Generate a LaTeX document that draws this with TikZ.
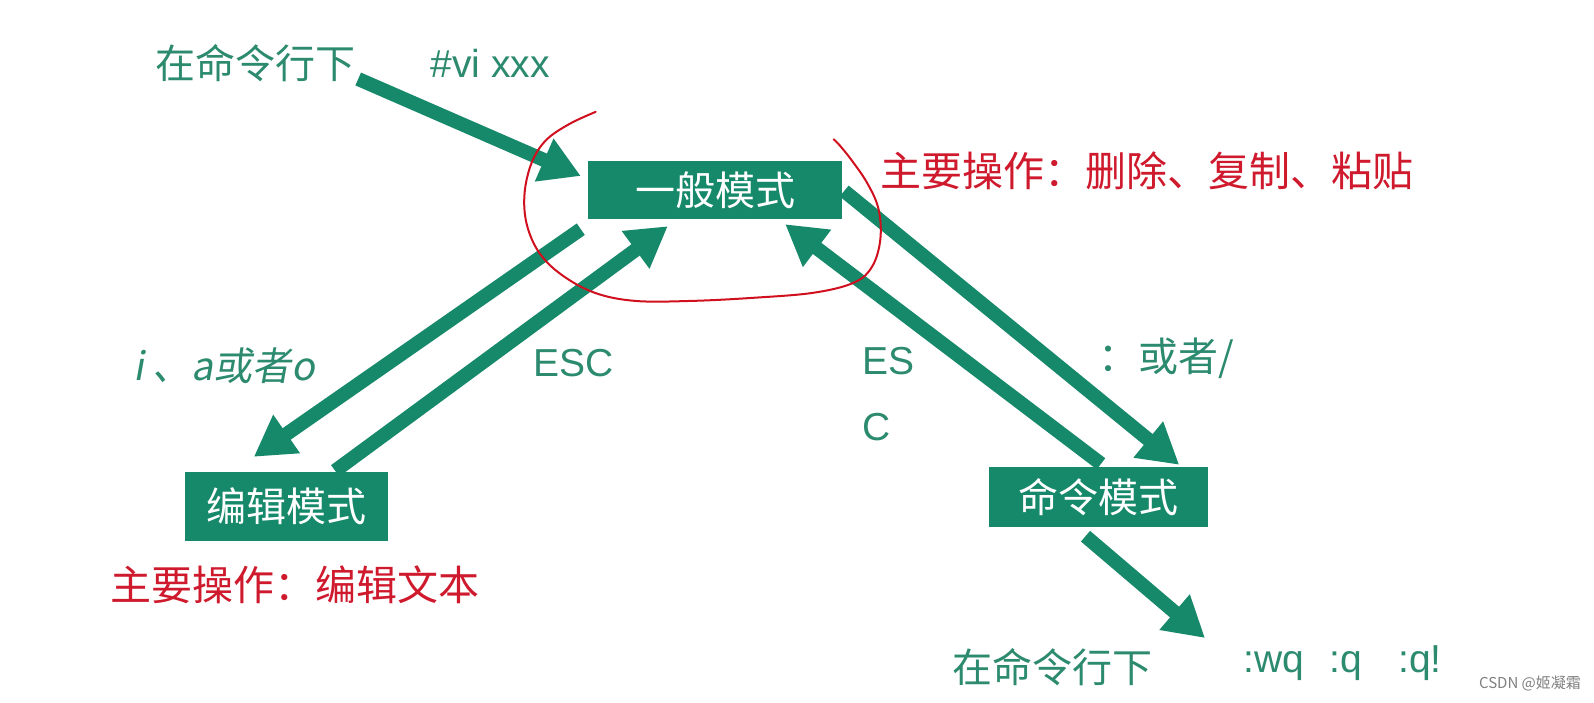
\documentclass[tikz,border=0pt]{standalone}
\usepackage{fontspec}
\setmainfont{Noto Sans CJK SC}
\newfontfamily\latin{Liberation Sans}
\newfontfamily\cjkslant[FakeSlant=0.18]{Noto Sans CJK SC}
\usetikzlibrary{arrows.meta}
\definecolor{vgreen}{HTML}{16896A}
\definecolor{tgreen}{HTML}{2C8A6E}
\definecolor{vred}{HTML}{CF1A2E}
\definecolor{cred}{HTML}{D0101E}
\tikzset{
  modebox/.style={fill=vgreen, text=white, inner sep=0pt, font=\fontsize{40}{44}\selectfont},
  gtext/.style={text=tgreen, inner sep=0pt, font=\fontsize{40}{44}\selectfont},
  ltext/.style={text=tgreen, inner sep=0pt, font=\latin\fontsize{39}{44}\selectfont},
  rtext/.style={text=vred, inner sep=0pt, font=\fontsize{41}{44}\selectfont},
  flow/.style={draw=vgreen, line width=14pt, -{Triangle[width=44pt,length=40pt]}},
}
\begin{document}
\begin{tikzpicture}[x=1pt,y=-1pt]
\fill[white] (0,0) rectangle (1594,702);
\useasboundingbox (0,0) rectangle (1594,702);

% texts
\node[gtext] (cmd1) at (255,63) {在命令行下};
\node[ltext] (vi) at (490,63) {\#vi xxx};
\node[rtext, anchor=west] (mainop1) at (880,171) {主要操作：删除、复制、粘贴};
\node[gtext, anchor=west, font=\cjkslant\fontsize{39}{44}\selectfont] (ilab) at (133,366) {i 、a或者o};
\node[ltext] (esc1) at (574,363) {ESC};
\node[ltext, anchor=west] (esc2a) at (862,361) {ES};
\node[ltext, anchor=west] (esc2b) at (862,427) {C};
\node[gtext] (orlab) at (1166,358) {：或者/};
\node[rtext] (mainop2) at (295,585) {主要操作：编辑文本};
\node[gtext] (cmd2) at (1052,667) {在命令行下};
\node[ltext, anchor=west] (wq) at (1243,663) {:wq\hspace{26pt}:q\hspace{36pt}:q!};
\node[text=gray, inner sep=0pt, font=\fontsize{15}{17}\selectfont] (wm) at (1530,683) {CSDN @姬凝霜};

% mode boxes
\node[modebox, minimum width=254pt, minimum height=58pt] (gen) at (715,190) {一般模式};
\node[modebox, minimum width=203pt, minimum height=69pt] (edit) at (286.5,506.5) {编辑模式};
\node[modebox, minimum width=219pt, minimum height=60pt] (cmd) at (1098.5,497) {命令模式};

\coordinate (exitpt) at (1205,638);

% arrows
\draw[flow] ([shift={(3,16)}]cmd1.east) -- ([shift={(-7,-14)}]gen.west);
\draw[flow] ([shift={(-7,10)}]gen.south west) -- ([shift={(69,-15)}]edit.north west);
\draw[flow] ([shift={(-53,-1)}]edit.north east) -- ([shift={(80,7)}]gen.south west);
\draw[flow] ([shift={(2.5,-3)}]cmd.north) -- ([shift={(-57,5)}]gen.south east);
\draw[flow] ([shift={(2,1)}]gen.east) -- ([shift={(-29,-2)}]cmd.north east);
\draw[flow] ([shift={(-13,9)}]cmd.south) -- (exitpt);

% red hand-drawn loop
\begin{scope}[scale=1.0166]
\draw[cred, line width=2pt, line cap=round, line join=round] plot[smooth, tension=0.6] coordinates {
 (586,110) (560,122) (537,138) (523,160) (516,190) (518,220) (530,248) (552,270)
 (585,288) (625,296) (680,296) (740,293) (800,288) (840,278) (858,262) (866,235)
 (864,205) (853,180) (838,158) (826,143) (820,137)};
\end{scope}
\end{tikzpicture}
\end{document}
